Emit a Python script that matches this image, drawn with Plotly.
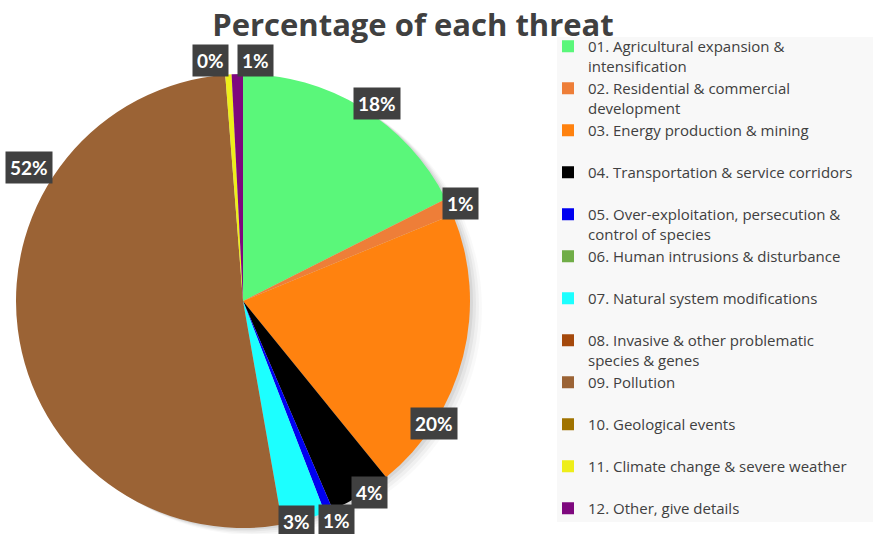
import math
import plotly.graph_objects as go

# ---- data ----
threats = [
    "01. Agricultural expansion &<br>intensification",
    "02. Residential & commercial<br>development",
    "03. Energy production & mining<br> ",
    "04. Transportation & service corridors<br> ",
    "05. Over-exploitation, persecution &<br>control of species",
    "06. Human intrusions & disturbance<br> ",
    "07. Natural system modifications<br> ",
    "08. Invasive & other problematic<br>species & genes",
    "09. Pollution<br> ",
    "10. Geological events<br> ",
    "11. Climate change & severe weather<br> ",
    "12. Other, give details<br> ",
]
shares = [17.6, 1.2, 20.4, 4.4, 0.6, 0, 3.1, 0, 51.6, 0, 0.45, 0.8]
colors = ["#5AF77A", "#EE7E38", "#FF820F", "#000000", "#0000F0", "#70AD47",
          "#1CFFFF", "#A5490C", "#9B6335", "#A07300", "#EEEE1A", "#7E087E"]

# ---- layout constants (pixels) ----
W, H = 873, 534
CX, CY, R = 243, 301, 227
# label placement tweaks (angle nudge in degrees, radius factor) per slice
label_nudge = [2.6, 0.4, 18.4, -2.3, -1.0, 0, 1.8, 0, 39.2, 0, -3.9, 4.3]
label_rf = [1.05, 1.05, 1.0, 1.01, 1.05, 1.0, 1.0, 1.0, 1.11, 1.0, 1.07, 1.06]

fig = go.Figure()
fig.add_trace(go.Pie(
    labels=threats, values=shares, sort=False, direction="clockwise",
    rotation=0, marker=dict(colors=colors, line=dict(width=0)),
    textinfo="none", hoverinfo="label+percent",
    domain=dict(x=[(CX - R) / W, (CX + R) / W],
                y=[1 - (CY + R) / H, 1 - (CY - R) / H]),
))

# percentage labels derived from the data
total = sum(shares)
cum = 0.0
annotations = []
for v, nudge, rf in zip(shares, label_nudge, label_rf):
    if v > 0:
        mid = (cum + v / 2) / total * 360 + nudge
        a = math.radians(mid)
        px = CX + rf * R * math.sin(a)
        py = CY - rf * R * math.cos(a)
        annotations.append(dict(
            x=px / W, y=1 - py / H, xref="paper", yref="paper",
            xanchor="center", yanchor="middle",
            text="<b>%d%%</b>" % round(v / total * 100), showarrow=False,
            font=dict(family="Lato", size=19, color="white"),
            bgcolor="#404040", borderpad=4,
        ))
    cum += v

shapes = [dict(type="rect", xref="paper", yref="paper", layer="below",
               x0=557 / W, x1=1.0, y0=1 - 522 / H, y1=1 - 37 / H,
               fillcolor="#F8F8F8", line=dict(width=0))]
for k, op in [(12, 0.025), (9, 0.035), (6, 0.045), (3, 0.06)]:
    shapes.append(dict(type="circle", xref="paper", yref="paper", layer="below",
                       x0=(CX - R + k) / W, x1=(CX + R + k) / W,
                       y0=1 - (CY + R + k * 0.6) / H, y1=1 - (CY - R + k * 0.6) / H,
                       fillcolor="rgba(0,0,0,%s)" % op, line=dict(width=0)))

fig.update_layout(
    width=W, height=H,
    margin=dict(l=0, r=0, t=0, b=0, autoexpand=False),
    paper_bgcolor="white", plot_bgcolor="white",
    title=dict(text="<b>Percentage of each threat</b>", x=413 / W, xanchor="center",
               y=1 - 25 / H, yanchor="middle",
               font=dict(family="Open Sans", size=31, color="#404040")),
    legend=dict(x=548 / W, y=1 - 30 / H, xanchor="left", yanchor="top",
                bgcolor="rgba(0,0,0,0)", valign="top",
                font=dict(family="Open Sans", size=15, color="#404040")),
    annotations=annotations,
    shapes=shapes,
)

fig.write_html("out.html")
